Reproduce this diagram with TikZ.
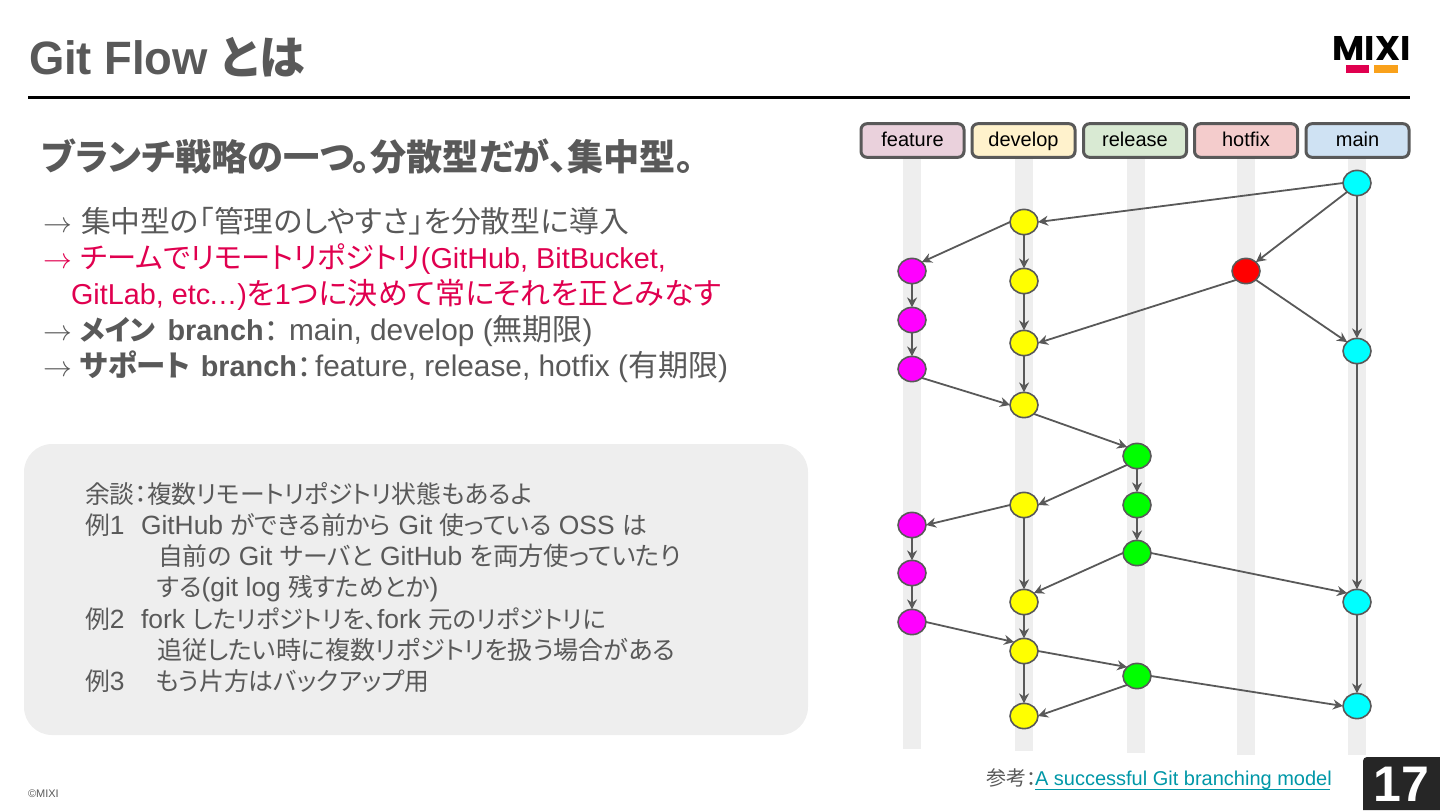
\documentclass[tikz,border=0pt]{standalone}
\usepackage{fontspec}
\setmainfont{Liberation Sans}
\newfontfamily\cjk{Noto Sans CJK JP}[RawFeature=+palt]
\newfontfamily\titlefont{Liberation Sans}[FakeStretch=0.97]
\newfontfamily\logofont{Poppins}
\newcommand{\J}[1]{{\cjk #1}}
\newcommand{\Js}[2]{{\fontsize{#1}{16}\selectfont\cjk #2}}
\newcommand{\JS}[1]{{\fontsize{12.4}{14}\selectfont\cjk #1}}
\newcommand{\lowcolon}{\raisebox{-1.2pt}{\Js{15}{：}}}
\usetikzlibrary{arrows.meta,shapes.geometric}
\definecolor{ink}{HTML}{595959}
\definecolor{accent}{HTML}{E0004F}
\definecolor{lane}{HTML}{EEEEEE}
\definecolor{linkc}{HTML}{0097A7}
\definecolor{pfe}{HTML}{FF00FF}
\definecolor{pde}{HTML}{FFFF00}
\definecolor{pre}{HTML}{00FF00}
\definecolor{pho}{HTML}{FF0000}
\definecolor{pma}{HTML}{00FFFF}
\definecolor{hfe}{HTML}{EAD1DC}
\definecolor{hde}{HTML}{FFF2CC}
\definecolor{hre}{HTML}{D9EAD3}
\definecolor{hho}{HTML}{F4CCCC}
\definecolor{hma}{HTML}{CFE2F3}
\definecolor{orangebar}{HTML}{F9A11B}
\tikzset{
  x=0.5pt,y=-0.5pt,
  line/.style={anchor=base west,inner sep=0pt,outer sep=0pt,text=ink},
  big/.style={line,font=\fontsize{14.4}{16}\selectfont},
  bigtail/.style={line,font=\fontsize{14.9}{16}\selectfont},
  small/.style={line,font=\fontsize{13.2}{14}\selectfont},
  header/.style={draw=ink,line width=1.5pt,rounded corners=3pt,minimum width=51.5pt,minimum height=16.8pt,inner sep=0pt,text=black,text height=8pt,text depth=1.8pt,font=\fontsize{10}{12}\selectfont},
  commit/.style={ellipse,draw=ink,line width=0.8pt,minimum width=14pt,minimum height=12.6pt,inner sep=0pt,outer sep=0pt},
  fe/.style={commit,fill=pfe},
  de/.style={commit,fill=pde},
  re/.style={commit,fill=pre},
  ho/.style={commit,fill=pho},
  ma/.style={commit,fill=pma},
  edge/.style={draw=ink,line width=0.9pt,-{Stealth[length=5pt,width=5pt]}},
  lanebar/.style={fill=lane,draw=none},
}
\begin{document}
\begin{tikzpicture}
\useasboundingbox (0,0) rectangle (1440,810);
% title
\node[line,font=\fontsize{23.4}{28}\selectfont\bfseries] (title) at (29,74) {\titlefont Git Flow {\fontsize{23}{28}\selectfont\cjk\bfseries とは}};
\fill[black] (28,96) rectangle (1410,99);
% logo
\node[anchor=center,inner sep=0pt,text=black] (logo) at (1371.5,48.5) {\resizebox{39pt}{12pt}{\logofont\bfseries MIXI}};
\fill[accent] (1346,65) rectangle (1369,73);
\fill[orangebar] (1374,65) rectangle (1398,73);
% lead
\node[line,font=\fontsize{18.1}{20}\selectfont\bfseries] (lead) at (42,170) {\J{ブランチ戦略の一つ。分散型だが、集中型。}};
% bullet lines
\node[big] (b1) at (43,232) {$\rightarrow$};
\node[big] (t1) at (81,232) {\Js{14.9}{集中型の「管理のしやすさ」を分散型に導入}};
\node[big,text=accent] (b2) at (43,268) {$\rightarrow$};
\node[big,text=accent] (t2) at (81,268) {\Js{14.65}{チームでリモートリポジトリ}(GitHub, BitBucket,};
\node[big,text=accent] (t3) at (71,304) {GitLab, etc\kern-0.8pt…)\Js{15}{を}1\Js{15}{つに決めて常にそれを正とみなす}};
\node[big] (b4) at (43,340) {$\rightarrow$};
\node[big] (t4) at (80,340) {\textbf{\Js{14}{メイン}\hspace{6pt}branch}\lowcolon};
\node[bigtail] (t4b) at (289,340) {main, develop (\Js{15}{無期限})};
\node[big] (b5) at (43,376) {$\rightarrow$};
\node[big] (t5) at (80,376) {\textbf{\Js{14.7}{サポート}\hspace{5.5pt}branch}\lowcolon};
\node[bigtail] (t5b) at (315,376) {feature, release, hotfix (\Js{15}{有期限})};
% aside panel
\fill[lane,rounded corners=14pt] (24,444) rectangle (808,735);
\node[small] (a1) at (85,503) {\JS{余談：複数リモートリポジトリ状態もあるよ}};
\node[small] (a2) at (85,534) {\JS{例}1};
\node[small] (a2b) at (141,534) {GitHub \JS{ができる前から} Git \JS{使っている} OSS \JS{は}};
\node[small] (a3) at (158,565) {\JS{自前の} Git \JS{サーバと} GitHub \Js{12.7}{を両方使っていたり}};
\node[small] (a4) at (157,596) {\JS{する}(git log \JS{残すためとか})};
\node[small] (a5) at (85,628) {\JS{例}2};
\node[small] (a5b) at (141,628) {fork \Js{12.2}{したリポジトリを、}fork \Js{12.2}{元のリポジトリに}};
\node[small] (a6) at (157,659) {\Js{12.55}{追従したい時に複数リポジトリを扱う場合がある}};
\node[small] (a7) at (85,690) {\JS{例}3};
\node[small] (a7b) at (156,690) {\JS{もう片方はバックアップ用}};
% footer
\node[line,font=\fontsize{5.5}{7}\selectfont] (copy) at (28,797) {©MIXI};
\node[line,font=\fontsize{10}{12}\selectfont] (ref) at (986,785) {\J{参考}\raisebox{-0.8pt}{\J{：}}};
\node[line,text=linkc,font=\fontsize{10}{12}\selectfont] (link) at (1035,785) {A successful Git branching model};
\draw[linkc,line width=0.5pt] (1035,789) -- (1330,789);
\fill[black!85] (1440,810) -- (1363,810) [rounded corners=2pt] -- (1363,757) [sharp corners] -- (1440,757) -- cycle;
\node[anchor=center,inner sep=0pt,text=white,font=\fontsize{25}{30}\selectfont\bfseries] (page) at (1401,784) {17};
% lanes
\fill[lanebar] (903,158) rectangle (921,749);
\fill[lanebar] (1015,158) rectangle (1033,751);
\fill[lanebar] (1127,158) rectangle (1145,753);
\fill[lanebar] (1237,158) rectangle (1255,755);
\fill[lanebar] (1348,158) rectangle (1366,755);
% headers
\node[header,fill=hfe] (hf) at (912.5,140.5) {feature};
\node[header,fill=hde] (hd) at (1023.5,140.5) {develop};
\node[header,fill=hre] (hr) at (1135,140.5) {release};
\node[header,fill=hho] (hh) at (1246,140.5) {hotfix};
\node[header,fill=hma] (hm) at (1357.5,140.5) {main};
% commits
\node[ma] (m1) at (1357,183) {};
\node[ma] (m2) at (1357,351) {};
\node[ma] (m3) at (1357,602) {};
\node[ma] (m4) at (1357,706) {};
\node[de] (d1) at (1024,222) {};
\node[de] (d2) at (1024,281) {};
\node[de] (d3) at (1024,343) {};
\node[de] (d4) at (1024,405) {};
\node[de] (d5) at (1024,505) {};
\node[de] (d6) at (1024,602) {};
\node[de] (d7) at (1024,651) {};
\node[de] (d8) at (1024,716) {};
\node[fe] (f1) at (912,271) {};
\node[fe] (f2) at (912,320) {};
\node[fe] (f3) at (912,369) {};
\node[fe] (f4) at (912,525) {};
\node[fe] (f5) at (912,573) {};
\node[fe] (f6) at (912,622) {};
\node[re] (r1) at (1137,456) {};
\node[re] (r2) at (1137,505) {};
\node[re] (r3) at (1137,553) {};
\node[re] (r4) at (1137,676) {};
\node[ho] (h1) at (1246,271) {};
% edges
\foreach \a/\b in {m1.west/d1.east,m1.south west/h1.north east,m1.south/m2.north,
  d1.west/f1.north east,d1.south/d2.north,f1.south/f2.north,f2.south/f3.north,d2.south/d3.north,
  h1.south west/d3.east,h1.south east/m2.north west,d3.south/d4.north,f3.south east/d4.west,
  d4.south east/r1.north west,r1.south/r2.north,r2.south/r3.north,r1.south west/d5.east,
  d5.west/f4.east,f4.south/f5.north,f5.south/f6.north,d5.south/d6.north,r3.west/d6.north east,
  r3.east/m3.north west,m2.south/m3.north,d6.south/d7.north,f6.east/d7.north west,
  d7.east/r4.north west,r4.east/m4.west,m3.south/m4.north,d7.south/d8.north,r4.south west/d8.east}
  \draw[edge] (\a) -- (\b);
\end{tikzpicture}
\end{document}
